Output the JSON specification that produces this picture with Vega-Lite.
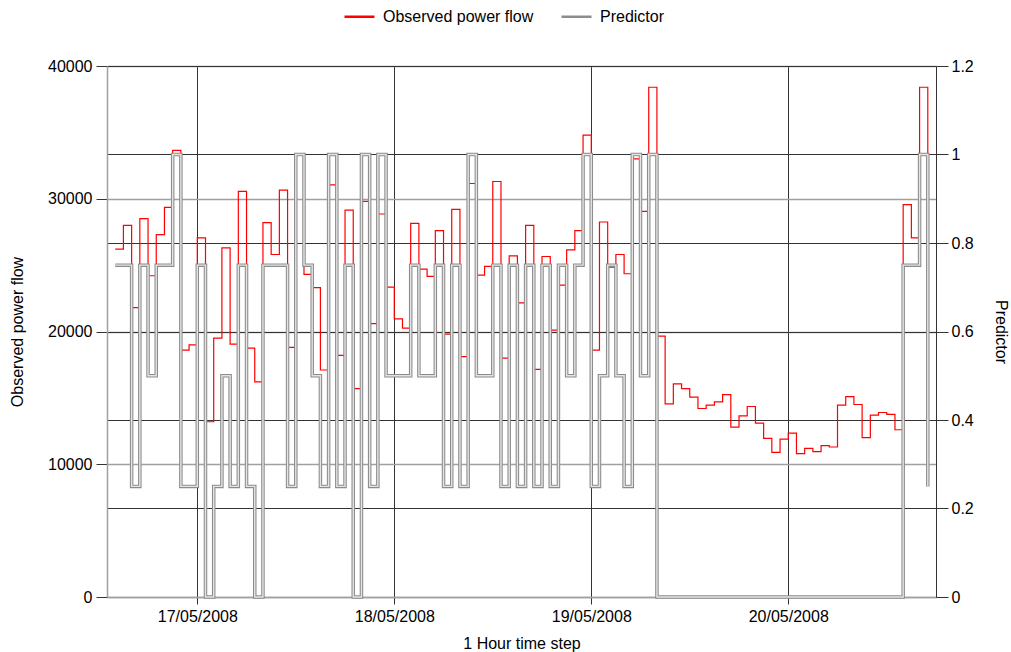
{
  "$schema": "https://vega.github.io/schema/vega-lite/v6.json",
  "width": 829,
  "height": 531,
  "autosize": {"type": "none"},
  "padding": {"left": 107, "top": 66, "right": 75, "bottom": 55},
  "background": "white",
  "config": {
    "font": "Liberation Sans",
    "view": {"stroke": null},
    "axis": {
      "labelFont": "Liberation Sans",
      "titleFont": "Liberation Sans",
      "labelFontSize": 16,
      "titleFontSize": 16,
      "titleFontWeight": "normal",
      "labelColor": "#000000",
      "titleColor": "#000000"
    },
    "legend": {
      "labelFont": "Liberation Sans",
      "labelFontSize": 16,
      "labelColor": "#000000"
    }
  },
  "data": {
    "values": [
      {"time": "2008-05-16T14:00:00Z", "flow": 26200, "predictor": 0.75},
      {"time": "2008-05-16T15:00:00Z", "flow": 28000, "predictor": 0.75},
      {"time": "2008-05-16T16:00:00Z", "flow": 21800, "predictor": 0.25},
      {"time": "2008-05-16T17:00:00Z", "flow": 28500, "predictor": 0.75},
      {"time": "2008-05-16T18:00:00Z", "flow": 24200, "predictor": 0.5},
      {"time": "2008-05-16T19:00:00Z", "flow": 27300, "predictor": 0.75},
      {"time": "2008-05-16T20:00:00Z", "flow": 29350, "predictor": 0.75},
      {"time": "2008-05-16T21:00:00Z", "flow": 33650, "predictor": 1},
      {"time": "2008-05-16T22:00:00Z", "flow": 18600, "predictor": 0.25},
      {"time": "2008-05-16T23:00:00Z", "flow": 19000, "predictor": 0.25},
      {"time": "2008-05-17T00:00:00Z", "flow": 27050, "predictor": 0.75},
      {"time": "2008-05-17T01:00:00Z", "flow": 13200, "predictor": 0},
      {"time": "2008-05-17T02:00:00Z", "flow": 19500, "predictor": 0.25},
      {"time": "2008-05-17T03:00:00Z", "flow": 26300, "predictor": 0.5},
      {"time": "2008-05-17T04:00:00Z", "flow": 19050, "predictor": 0.25},
      {"time": "2008-05-17T05:00:00Z", "flow": 30550, "predictor": 0.75},
      {"time": "2008-05-17T06:00:00Z", "flow": 18750, "predictor": 0.25},
      {"time": "2008-05-17T07:00:00Z", "flow": 16200, "predictor": 0},
      {"time": "2008-05-17T08:00:00Z", "flow": 28200, "predictor": 0.75},
      {"time": "2008-05-17T09:00:00Z", "flow": 25800, "predictor": 0.75},
      {"time": "2008-05-17T10:00:00Z", "flow": 30650, "predictor": 0.75},
      {"time": "2008-05-17T11:00:00Z", "flow": 18800, "predictor": 0.25},
      {"time": "2008-05-17T12:00:00Z", "flow": 33350, "predictor": 1},
      {"time": "2008-05-17T13:00:00Z", "flow": 24300, "predictor": 0.75},
      {"time": "2008-05-17T14:00:00Z", "flow": 23300, "predictor": 0.5},
      {"time": "2008-05-17T15:00:00Z", "flow": 17100, "predictor": 0.25},
      {"time": "2008-05-17T16:00:00Z", "flow": 31050, "predictor": 1},
      {"time": "2008-05-17T17:00:00Z", "flow": 18200, "predictor": 0.25},
      {"time": "2008-05-17T18:00:00Z", "flow": 29150, "predictor": 0.75},
      {"time": "2008-05-17T19:00:00Z", "flow": 15700, "predictor": 0},
      {"time": "2008-05-17T20:00:00Z", "flow": 29800, "predictor": 1},
      {"time": "2008-05-17T21:00:00Z", "flow": 20600, "predictor": 0.25},
      {"time": "2008-05-17T22:00:00Z", "flow": 28850, "predictor": 1},
      {"time": "2008-05-17T23:00:00Z", "flow": 23350, "predictor": 0.5},
      {"time": "2008-05-18T00:00:00Z", "flow": 20950, "predictor": 0.5},
      {"time": "2008-05-18T01:00:00Z", "flow": 20250, "predictor": 0.5},
      {"time": "2008-05-18T02:00:00Z", "flow": 28150, "predictor": 0.75},
      {"time": "2008-05-18T03:00:00Z", "flow": 24700, "predictor": 0.5},
      {"time": "2008-05-18T04:00:00Z", "flow": 24150, "predictor": 0.5},
      {"time": "2008-05-18T05:00:00Z", "flow": 27600, "predictor": 0.75},
      {"time": "2008-05-18T06:00:00Z", "flow": 19800, "predictor": 0.25},
      {"time": "2008-05-18T07:00:00Z", "flow": 29200, "predictor": 0.75},
      {"time": "2008-05-18T08:00:00Z", "flow": 18100, "predictor": 0.25},
      {"time": "2008-05-18T09:00:00Z", "flow": 31150, "predictor": 1},
      {"time": "2008-05-18T10:00:00Z", "flow": 24250, "predictor": 0.5},
      {"time": "2008-05-18T11:00:00Z", "flow": 24900, "predictor": 0.5},
      {"time": "2008-05-18T12:00:00Z", "flow": 31300, "predictor": 0.75},
      {"time": "2008-05-18T13:00:00Z", "flow": 18000, "predictor": 0.25},
      {"time": "2008-05-18T14:00:00Z", "flow": 25700, "predictor": 0.75},
      {"time": "2008-05-18T15:00:00Z", "flow": 22150, "predictor": 0.25},
      {"time": "2008-05-18T16:00:00Z", "flow": 28000, "predictor": 0.75},
      {"time": "2008-05-18T17:00:00Z", "flow": 17150, "predictor": 0.25},
      {"time": "2008-05-18T18:00:00Z", "flow": 25650, "predictor": 0.75},
      {"time": "2008-05-18T19:00:00Z", "flow": 20100, "predictor": 0.25},
      {"time": "2008-05-18T20:00:00Z", "flow": 23500, "predictor": 0.75},
      {"time": "2008-05-18T21:00:00Z", "flow": 26150, "predictor": 0.5},
      {"time": "2008-05-18T22:00:00Z", "flow": 27600, "predictor": 0.75},
      {"time": "2008-05-18T23:00:00Z", "flow": 34800, "predictor": 1},
      {"time": "2008-05-19T00:00:00Z", "flow": 18600, "predictor": 0.25},
      {"time": "2008-05-19T01:00:00Z", "flow": 28250, "predictor": 0.5},
      {"time": "2008-05-19T02:00:00Z", "flow": 24850, "predictor": 0.75},
      {"time": "2008-05-19T03:00:00Z", "flow": 25800, "predictor": 0.5},
      {"time": "2008-05-19T04:00:00Z", "flow": 24350, "predictor": 0.25},
      {"time": "2008-05-19T05:00:00Z", "flow": 33000, "predictor": 1},
      {"time": "2008-05-19T06:00:00Z", "flow": 29050, "predictor": 0.5},
      {"time": "2008-05-19T07:00:00Z", "flow": 38400, "predictor": 1},
      {"time": "2008-05-19T08:00:00Z", "flow": 19650, "predictor": 0},
      {"time": "2008-05-19T09:00:00Z", "flow": 14550, "predictor": 0},
      {"time": "2008-05-19T10:00:00Z", "flow": 16050, "predictor": 0},
      {"time": "2008-05-19T11:00:00Z", "flow": 15700, "predictor": 0},
      {"time": "2008-05-19T12:00:00Z", "flow": 15050, "predictor": 0},
      {"time": "2008-05-19T13:00:00Z", "flow": 14200, "predictor": 0},
      {"time": "2008-05-19T14:00:00Z", "flow": 14450, "predictor": 0},
      {"time": "2008-05-19T15:00:00Z", "flow": 14700, "predictor": 0},
      {"time": "2008-05-19T16:00:00Z", "flow": 15250, "predictor": 0},
      {"time": "2008-05-19T17:00:00Z", "flow": 12800, "predictor": 0},
      {"time": "2008-05-19T18:00:00Z", "flow": 13650, "predictor": 0},
      {"time": "2008-05-19T19:00:00Z", "flow": 14350, "predictor": 0},
      {"time": "2008-05-19T20:00:00Z", "flow": 13100, "predictor": 0},
      {"time": "2008-05-19T21:00:00Z", "flow": 11950, "predictor": 0},
      {"time": "2008-05-19T22:00:00Z", "flow": 10900, "predictor": 0},
      {"time": "2008-05-19T23:00:00Z", "flow": 11900, "predictor": 0},
      {"time": "2008-05-20T00:00:00Z", "flow": 12350, "predictor": 0},
      {"time": "2008-05-20T01:00:00Z", "flow": 10800, "predictor": 0},
      {"time": "2008-05-20T02:00:00Z", "flow": 11200, "predictor": 0},
      {"time": "2008-05-20T03:00:00Z", "flow": 10950, "predictor": 0},
      {"time": "2008-05-20T04:00:00Z", "flow": 11400, "predictor": 0},
      {"time": "2008-05-20T05:00:00Z", "flow": 11300, "predictor": 0},
      {"time": "2008-05-20T06:00:00Z", "flow": 14450, "predictor": 0},
      {"time": "2008-05-20T07:00:00Z", "flow": 15100, "predictor": 0},
      {"time": "2008-05-20T08:00:00Z", "flow": 14500, "predictor": 0},
      {"time": "2008-05-20T09:00:00Z", "flow": 12000, "predictor": 0},
      {"time": "2008-05-20T10:00:00Z", "flow": 13700, "predictor": 0},
      {"time": "2008-05-20T11:00:00Z", "flow": 13900, "predictor": 0},
      {"time": "2008-05-20T12:00:00Z", "flow": 13750, "predictor": 0},
      {"time": "2008-05-20T13:00:00Z", "flow": 12600, "predictor": 0},
      {"time": "2008-05-20T14:00:00Z", "flow": 29550, "predictor": 0.75},
      {"time": "2008-05-20T15:00:00Z", "flow": 27050, "predictor": 0.75},
      {"time": "2008-05-20T16:00:00Z", "flow": 38400, "predictor": 1},
      {"time": "2008-05-20T17:00:00Z", "flow": 30000, "predictor": 0.25}
    ]
  },
  "encoding": {
    "x": {
      "field": "time",
      "type": "temporal",
      "scale": {
        "type": "utc",
        "domain": [
          {"year": 2008, "month": 5, "date": 16, "hours": 13, "utc": true},
          {"year": 2008, "month": 5, "date": 20, "hours": 18, "utc": true}
        ]
      },
      "axis": {
        "title": "1 Hour time step",
        "values": [
          {"year": 2008, "month": 5, "date": 17, "utc": true},
          {"year": 2008, "month": 5, "date": 18, "utc": true},
          {"year": 2008, "month": 5, "date": 19, "utc": true},
          {"year": 2008, "month": 5, "date": 20, "utc": true}
        ],
        "format": "%d/%m/%Y",
        "grid": true,
        "gridColor": "#333333",
        "gridWidth": 1,
        "gridOpacity": 1,
        "domainColor": "#a0a0a0",
        "domainWidth": 1.5,
        "tickColor": "#333333",
        "tickSize": 7,
        "labelPadding": 4,
        "titlePadding": 11
      }
    }
  },
  "layer": [
    {
      "mark": {"type": "line", "interpolate": "step-after", "strokeWidth": 1.2},
      "encoding": {
        "y": {
          "field": "flow",
          "type": "quantitative",
          "scale": {"domain": [0, 40000], "nice": false, "zero": true},
          "axis": {
            "orient": "left",
            "title": "Observed power flow",
            "values": [0, 10000, 20000, 30000, 40000],
            "format": "d",
            "grid": true,
            "gridColor": "#a0a0a0",
            "gridWidth": 1.5,
            "gridOpacity": 1,
            "domainColor": "#a0a0a0",
            "domainWidth": 1.5,
            "tickColor": "#333333",
            "tickSize": 11,
            "labelPadding": 4,
            "titlePadding": 22
          }
        },
        "color": {
          "datum": "Observed power flow",
          "type": "nominal",
          "scale": {"domain": ["Observed power flow", "Predictor"], "range": ["#ff0000", "#8c8c8c"]},
          "legend": {
            "title": null,
            "orient": "none",
            "direction": "horizontal",
            "legendX": 236,
            "legendY": -66,
            "symbolType": "stroke",
            "symbolSize": 900,
            "symbolStrokeWidth": 2.5,
            "labelOffset": 7,
            "columnPadding": 22,
            "padding": 0
          }
        }
      }
    },
    {
      "encoding": {
        "y": {
          "field": "predictor",
          "type": "quantitative",
          "scale": {"domain": [0, 1.2], "nice": false, "zero": true},
          "axis": {
            "orient": "right",
            "title": "Predictor",
            "titleAngle": 90,
            "values": [0, 0.2, 0.4, 0.6, 0.8, 1, 1.2],
            "format": "~g",
            "grid": true,
            "gridColor": "#333333",
            "gridWidth": 1,
            "gridOpacity": 1,
            "domainColor": "#333333",
            "domainWidth": 1,
            "tickColor": "#333333",
            "tickSize": 12,
            "labelPadding": 3,
            "titlePadding": 19
          }
        }
      },
      "layer": [
        {
          "mark": {"type": "line", "interpolate": "step-after", "strokeWidth": 3.5},
          "encoding": {"color": {"datum": "Predictor", "type": "nominal"}}
        },
        {
          "mark": {"type": "line", "interpolate": "step-after", "strokeWidth": 1.4, "color": "#e4e4e4"},
          "encoding": {}
        }
      ]
    }
  ],
  "resolve": {"scale": {"y": "independent"}}
}
